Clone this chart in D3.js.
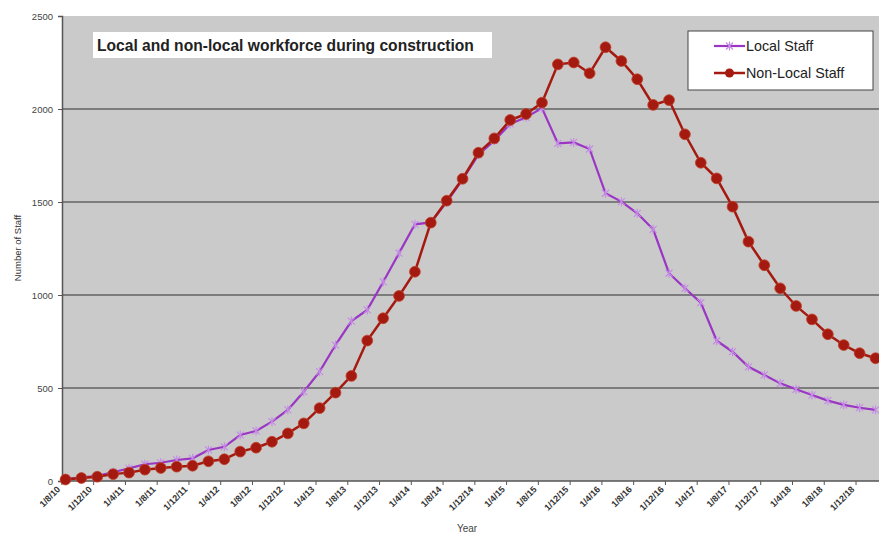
<!DOCTYPE html>
<html>
<head>
<meta charset="utf-8">
<script src="https://cdn.jsdelivr.net/npm/d3@7"></script>
<style>
    body { margin: 0; background: #fff; }
    svg { display: block; font-family: "Liberation Sans", Arial, sans-serif; }
</style>
</head>
<body>
<svg id="chart" width="879" height="535"></svg>
<script>
// categories (every 2 months, dd/mm/yy)
const categories = [
    "1/8/10", "1/10/10", "1/12/10", "1/2/11", "1/4/11", "1/6/11", "1/8/11", "1/10/11",
    "1/12/11", "1/2/12", "1/4/12", "1/6/12", "1/8/12", "1/10/12", "1/12/12", "1/2/13",
    "1/4/13", "1/6/13", "1/8/13", "1/10/13", "1/12/13", "1/2/14", "1/4/14", "1/6/14",
    "1/8/14", "1/10/14", "1/12/14", "1/2/15", "1/4/15", "1/6/15", "1/8/15", "1/10/15",
    "1/12/15", "1/2/16", "1/4/16", "1/6/16", "1/8/16", "1/10/16", "1/12/16", "1/2/17",
    "1/4/17", "1/6/17", "1/8/17", "1/10/17", "1/12/17", "1/2/18", "1/4/18", "1/6/18",
    "1/8/18", "1/10/18", "1/12/18", "1/2/19"
];

const localStaff = [
    11, 18, 28, 47, 68, 90, 98, 113, 122, 167, 184, 247, 269, 319, 382, 480,
    588, 731, 860, 920, 1070, 1225, 1380, 1390, 1500, 1620, 1755, 1830, 1920, 1955, 2005, 1815,
    1820, 1785, 1547, 1502, 1439, 1353, 1117, 1036, 959, 754, 695, 614, 570, 525,
    493, 462, 432, 409, 394, 382
];

const nonLocalStaff = [
    8, 16, 23, 37, 45, 61, 70, 77, 82, 106, 117, 158, 179, 211, 256, 310,
    392, 475, 565, 755, 875, 995, 1125, 1389, 1507, 1625, 1765, 1842, 1941, 1973, 2034, 2240,
    2250, 2192, 2332, 2258, 2160, 2022, 2048, 1864, 1711, 1627, 1475, 1287, 1160, 1036,
    941, 869, 789, 731, 687, 660
];

const yTicks = [0, 500, 1000, 1500, 2000, 2500];

const legendNames = ["Local Staff", "Non-Local Staff"];

const plotLeft = 62;
const plotRight = 885;
const plotTop = 16;
const plotBottom = 481;

const localColor = "#9a35c4";
const localMarker = "#c58ae6";
const nonLocalColor = "#a51a10";

const svg = d3.select("#chart");

const x = d3.scaleLinear()
    .domain([0, categories.length - 1])
    .range([65.5, 875.5]);
const tickOffset = -3.6;

const y = d3.scaleLinear()
    .domain([0, 2500])
    .range([plotBottom, plotTop]);

// plot area
svg.append("rect")
    .attr("x", plotLeft)
    .attr("y", plotTop)
    .attr("width", plotRight - plotLeft)
    .attr("height", plotBottom - plotTop)
    .attr("fill", "#cacaca");

// gridlines
svg.append("g")
    .selectAll("line")
    .data(yTicks.filter(function (d) { return d > 0 && d < 2500; }))
    .join("line")
    .attr("x1", plotLeft)
    .attr("x2", plotRight)
    .attr("y1", function (d) { return y(d); })
    .attr("y2", function (d) { return y(d); })
    .attr("stroke", "#7c7c7c")
    .attr("stroke-width", 2);

// y axis
const yAxis = svg.append("g")
    .attr("transform", `translate(${plotLeft}, 0)`)
    .call(d3.axisLeft(y).tickValues(yTicks).tickFormat(d3.format("d")).tickSize(4).tickPadding(5));
yAxis.select(".domain").attr("stroke", "#555").attr("stroke-width", 1.5);
yAxis.selectAll(".tick line").attr("stroke", "#555");
yAxis.selectAll("text")
    .attr("font-size", "9.5px")
    .attr("font-family", "Liberation Sans, Arial, sans-serif")
    .attr("fill", "#444");

// x axis
const evenIdx = categories.map(function (d, i) { return i; }).filter(function (i) { return i % 2 === 0; });
svg.append("line")
    .attr("x1", plotLeft)
    .attr("x2", plotRight)
    .attr("y1", plotBottom)
    .attr("y2", plotBottom)
    .attr("stroke", "#555")
    .attr("stroke-width", 1.5);
const xTicks = svg.append("g");
xTicks.selectAll("line")
    .data(evenIdx)
    .join("line")
    .attr("x1", function (i) { return x(i) + tickOffset; })
    .attr("x2", function (i) { return x(i) + tickOffset; })
    .attr("y1", plotBottom)
    .attr("y2", plotBottom + 4)
    .attr("stroke", "#555");
xTicks.selectAll("text")
    .data(evenIdx)
    .join("text")
    .attr("transform", function (i) { return `translate(${x(i) + tickOffset - 1}, ${plotBottom + 9}) rotate(-45)`; })
    .attr("text-anchor", "end")
    .attr("font-size", "9px")
    .attr("font-weight", "bold")
    .attr("fill", "#333")
    .text(function (i) { return categories[i]; });

// axis titles
svg.append("text")
    .attr("x", 467)
    .attr("y", 532)
    .attr("text-anchor", "middle")
    .attr("font-size", "10px")
    .attr("fill", "#444")
    .text("Year");
svg.append("text")
    .attr("transform", "translate(21, 248) rotate(-90)")
    .attr("text-anchor", "middle")
    .attr("font-size", "9.5px")
    .attr("fill", "#333")
    .text("Number of Staff");

const line = d3.line()
    .x(function (d, i) { return x(i); })
    .y(function (d) { return y(d); });

const starPath = "M-3.5,-3.5L3.5,3.5M-3.5,3.5L3.5,-3.5M0,-4.5L0,4.5";

// local staff
svg.append("path")
    .datum(localStaff)
    .attr("d", line)
    .attr("fill", "none")
    .attr("stroke", localColor)
    .attr("stroke-width", 2.2);
svg.append("g")
    .selectAll("path")
    .data(localStaff)
    .join("path")
    .attr("transform", function (d, i) { return `translate(${x(i)}, ${y(d)})`; })
    .attr("d", starPath)
    .attr("stroke", localMarker)
    .attr("stroke-width", 1.1);

// non-local staff
svg.append("path")
    .datum(nonLocalStaff)
    .attr("d", line)
    .attr("fill", "none")
    .attr("stroke", nonLocalColor)
    .attr("stroke-width", 2.5);
svg.append("g")
    .selectAll("circle")
    .data(nonLocalStaff)
    .join("circle")
    .attr("cx", function (d, i) { return x(i); })
    .attr("cy", function (d) { return y(d); })
    .attr("r", 5.4)
    .attr("fill", nonLocalColor)
    .attr("stroke", "#c0402a")
    .attr("stroke-width", 0.8);

// title box
svg.append("rect")
    .attr("x", 93)
    .attr("y", 32)
    .attr("width", 399)
    .attr("height", 26)
    .attr("fill", "#fff");
svg.append("text")
    .attr("x", 97)
    .attr("y", 51)
    .attr("font-size", "15.6px")
    .attr("font-weight", "bold")
    .attr("fill", "#222")
    .text("Local and non-local workforce during construction");

// legend
const legend = svg.append("g");
legend.append("rect")
    .attr("x", 688)
    .attr("y", 31)
    .attr("width", 185)
    .attr("height", 59)
    .attr("fill", "#fff")
    .attr("stroke", "#444")
    .attr("stroke-width", 1);
legendNames.forEach(function (name, k) {
    const ly = 46 + k * 27;
    legend.append("line")
        .attr("x1", 714)
        .attr("x2", 745)
        .attr("y1", ly)
        .attr("y2", ly)
        .attr("stroke", k === 0 ? localColor : nonLocalColor)
        .attr("stroke-width", k === 0 ? 2.2 : 2.5);
    if (k === 0) {
        legend.append("path")
            .attr("transform", `translate(729.5, ${ly})`)
            .attr("d", starPath)
            .attr("stroke", localMarker)
            .attr("stroke-width", 1.1);
    } else {
        legend.append("circle")
            .attr("cx", 729.5)
            .attr("cy", ly)
            .attr("r", 4.5)
            .attr("fill", nonLocalColor);
    }
    legend.append("text")
        .attr("x", 746)
        .attr("y", ly + 5)
        .attr("font-size", "14.3px")
        .attr("fill", "#222")
        .text(name);
});
</script>
</body>
</html>
